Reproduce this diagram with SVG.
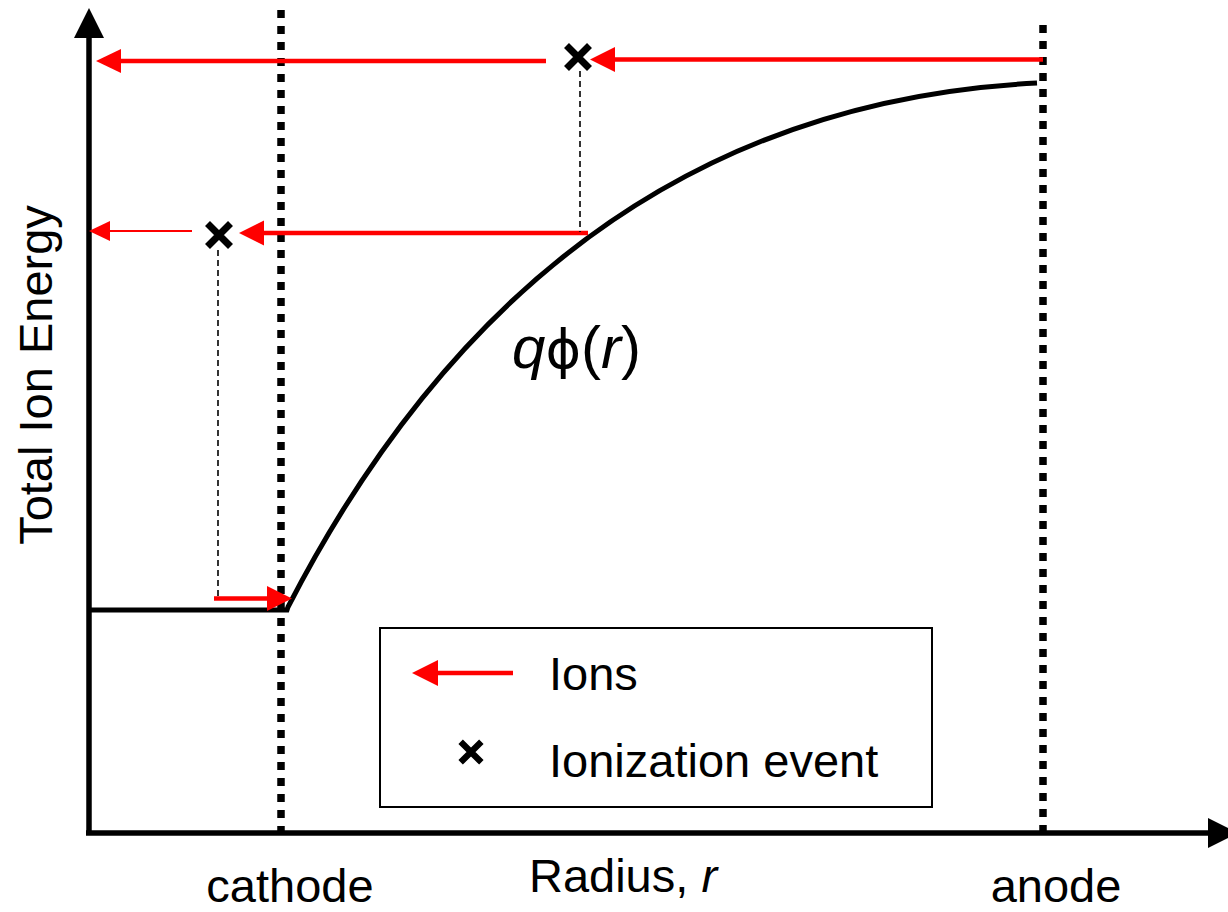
<svg xmlns="http://www.w3.org/2000/svg" width="1228" height="912" viewBox="0 0 1228 912">
<style>
  .axis{stroke:#000;stroke-width:5.5;fill:none}
  .dot{stroke:#000;stroke-width:7.5;stroke-dasharray:8 8;fill:none}
  .curve{stroke:#000;stroke-width:5;fill:none;stroke-linejoin:miter}
  .ion{stroke:#f00;stroke-width:4.5;fill:none}
  .ionthin{stroke:#f00;stroke-width:2;fill:none}
  .head{fill:#f00;stroke:none}
  .dash{stroke:#000;stroke-width:1.6;stroke-dasharray:6 4;fill:none}
  .xm{stroke:#000;stroke-width:7;fill:none}
  .lbl{font-family:"Liberation Sans","Arimo",Arial,sans-serif;font-size:47px;fill:#000}
</style>
<defs>
  <g id="xmark"><path class="xm" d="M-11.5,-11.5 L11.5,11.5 M-11.5,11.5 L11.5,-11.5"/></g>
</defs>
<rect width="1228" height="912" fill="#fff"/>

<g id="axes">
  <line class="axis" x1="89" y1="36" x2="89" y2="835"/>
  <polygon points="89,8 74,38 104,38" fill="#000"/>
  <line class="axis" x1="86" y1="833" x2="1210" y2="833"/>
  <polygon points="1208,818 1208,848 1238,833" fill="#000"/>
</g>

<g id="electrodes">
  <line class="dot" x1="281" y1="10" x2="281" y2="832"/>
  <line class="dot" x1="1043" y1="25" x2="1043" y2="832"/>
</g>

<g id="potential">
  <path class="curve" d="M89,610 H287 L288,607 Q545.4,107.6 1037,83"/>
</g>

<g id="connectors">
  <line class="ion" x1="1043" y1="59.5" x2="612" y2="59.5"/>
  <polygon class="head" points="590,59.5 615,47 615,72"/>
  <line class="ion" x1="546" y1="61" x2="118" y2="61"/>
  <polygon class="head" points="96,61 121,49 121,73"/>
  <line class="ion" x1="588" y1="233" x2="260" y2="233"/>
  <polygon class="head" points="239,233 264,220.5 264,245.5"/>
  <line class="ionthin" x1="192" y1="231" x2="106" y2="231"/>
  <polygon class="head" points="89,231 110,221 110,241"/>
  <line class="ion" x1="214" y1="598.5" x2="270" y2="598.5"/>
  <polygon class="head" points="292,598.5 267,586 267,611"/>
  <line class="dash" x1="580" y1="71" x2="580" y2="232"/>
  <line class="dash" x1="218" y1="250" x2="218" y2="598"/>
</g>

<g id="events">
  <use href="#xmark" x="578" y="57"/>
  <use href="#xmark" x="219" y="235"/>
</g>

<g id="curve-label">
  <text class="lbl" x="512" y="368" style="font-size:60px"><tspan font-style="italic">q</tspan><tspan font-family="'DejaVu Sans',sans-serif" font-size="54">ϕ</tspan>(<tspan font-style="italic">r</tspan>)</text>
</g>

<g id="legend">
  <rect x="380" y="628" width="552" height="179" fill="#fff" stroke="#000" stroke-width="2"/>
  <line class="ion" x1="513" y1="673" x2="434" y2="673"/>
  <polygon class="head" points="412,673 438,660 438,686"/>
  <text class="lbl" x="549" y="690">Ions</text>
  <g transform="translate(471,752) scale(0.9)"><use href="#xmark"/></g>
  <text class="lbl" x="549" y="777">Ionization event</text>
</g>

<g id="axis-labels">
  <text class="lbl" transform="translate(52,375) rotate(-90)" text-anchor="middle">Total Ion Energy</text>
  <text class="lbl" x="623" y="892" text-anchor="middle">Radius, <tspan font-style="italic">r</tspan></text>
  <text class="lbl" x="290" y="902" text-anchor="middle">cathode</text>
  <text class="lbl" x="1056" y="902" text-anchor="middle">anode</text>
</g>
</svg>
